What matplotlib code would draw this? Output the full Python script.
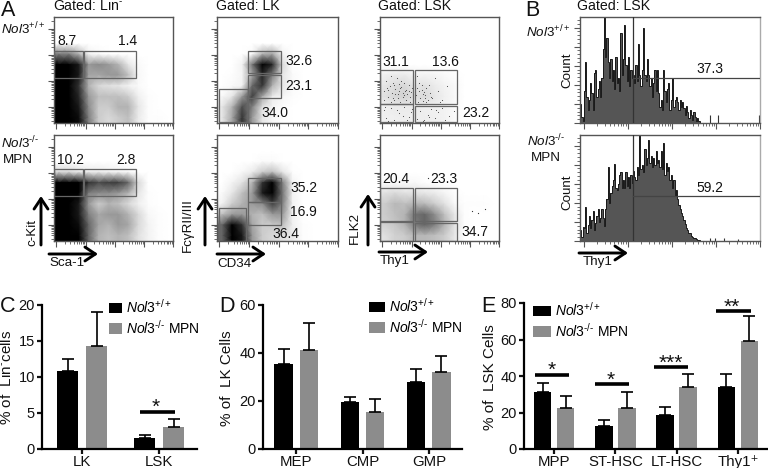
import numpy as np
import matplotlib
matplotlib.use('Agg')
import matplotlib.pyplot as plt
from matplotlib.patches import Rectangle, FancyArrowPatch

plt.rcParams['font.family'] = ['Liberation Sans', 'DejaVu Sans']
plt.rcParams['mathtext.fontset'] = 'custom'
plt.rcParams['mathtext.rm'] = 'Liberation Sans'
plt.rcParams['mathtext.it'] = 'Liberation Sans:italic'
plt.rcParams['mathtext.default'] = 'regular'

W, H = 768, 468
WT = r'$\mathit{Nol3}^{+/+}$'
KO = '$\\mathit{Nol3}^{\u2010/\u2010}$'

# bar charts: mean and top of the error bar
c_groups = ['LK', 'LSK']
c_wt = [10.9, 1.5]
c_wt_err = [12.5, 2.0]
c_ko = [14.3, 3.0]
c_ko_err = [19.0, 4.1]
d_groups = ['MEP', 'CMP', 'GMP']
d_wt = [35.3, 19.6, 27.8]
d_wt_err = [41.7, 21.5, 33.3]
d_ko = [41.4, 15.3, 31.9]
d_ko_err = [52.4, 20.8, 38.6]
e_groups = ['MPP', 'ST-HSC', 'LT-HSC', 'Thy1\u207a']
e_wt = [31.3, 12.5, 18.9, 33.7]
e_wt_err = [35.9, 16.1, 23.1, 41.2]
e_ko = [22.7, 22.5, 33.7, 59.3]
e_ko_err = [28.8, 31.1, 41.0, 73.0]

# density of the dot plots read by eye, rows top to bottom, 0 white 1 black
lin_wt = [[0]*12, [0]*12, [0]*12,
          [.5, .5, .3, .05, .02, 0, 0, 0, 0, 0, 0, 0],
          [1, 1, .9, .4, .45, .4, .3, .1, .02, 0, 0, 0],
          [1, 1, .9, .35, .35, .4, .4, .25, .03, 0, 0, 0],
          [1, 1, .8, .3, .15, .12, .1, .05, .02, 0, 0, 0],
          [1, 1, .85, .4, .25, .25, .25, .2, .06, .01, 0, 0],
          [1, 1, .9, .45, .2, .2, .3, .3, .1, .01, 0, 0],
          [1, 1, .95, .5, .2, .15, .2, .25, .08, .01, .01, 0]]
lin_ko = [[0]*12, [0]*12, [0]*12,
          [.15, .15, .1, .08, .08, .06, .05, .03, 0, 0, 0, 0],
          [1, 1, 1, .8, .7, .75, .75, .6, .15, 0, 0, 0],
          [1, 1, 1, .5, .45, .45, .4, .3, .1, .01, 0, 0],
          [1, 1, .9, .4, .2, .3, .25, .15, .06, .01, 0, 0],
          [1, 1, .9, .5, .35, .4, .4, .3, .15, .03, .01, 0],
          [1, 1, .95, .6, .35, .3, .4, .35, .15, .05, .01, 0],
          [1, 1, 1, .6, .3, .25, .3, .25, .12, .05, .01, 0]]
lk_wt = [[0]*12, [0]*12, [0]*12,
         [0, 0, 0, .02, .3, .35, .05, 0, 0, 0, 0, 0],
         [0, 0, .05, .55, 1, .85, .15, 0, 0, 0, 0, 0],
         [0, .01, .04, .35, .85, .5, .1, .02, 0, 0, 0, 0],
         [0, .02, .05, .6, .8, .3, .1, .02, 0, 0, 0, 0],
         [.03, .1, .4, .75, .35, .08, .04, .01, 0, 0, 0, 0],
         [.1, .3, .7, .5, .12, .04, .01, 0, 0, 0, 0, 0],
         [.1, .35, .8, .4, .1, .03, .01, 0, 0, 0, 0, 0]]
lk_ko = [[0]*12, [0]*12,
         [0, 0, 0, 0, .02, .02, 0, 0, 0, 0, 0, 0],
         [0, 0, .03, .08, .2, .25, .1, .01, 0, 0, 0, 0],
         [0, .05, .12, .3, .8, 1, .5, .05, 0, 0, 0, 0],
         [.02, .1, .25, .4, .9, 1, .55, .05, 0, 0, 0, 0],
         [.05, .2, .3, .4, .45, .75, .5, .05, 0, 0, 0, 0],
         [.25, .4, .4, .3, .25, .4, .4, .05, 0, 0, 0, 0],
         [.6, 1, .8, .35, .2, .2, .25, .06, .01, 0, 0, 0],
         [.6, 1, .9, .4, .2, .15, .12, .08, .01, 0, 0, 0]]
lsk_wt = [[0]*12, [0]*12, [0]*12, [0]*12, [0]*12,
          [.06, .08, .08, .05, .05, .04, .02, .01, 0, 0, 0, 0],
          [.1, .14, .16, .1, .12, .08, .05, .03, 0, 0, 0, 0],
          [.12, .16, .18, .12, .15, .1, .06, .03, 0, 0, 0, 0],
          [.06, .08, .08, .08, .06, .06, .05, .02, 0, 0, 0, 0],
          [.06, .06, .07, .07, .07, .06, .05, .02, 0, 0, 0, 0]]
lsk_ko = [[0]*12, [0]*12, [0]*12, [0]*12,
          [.02, .02, .02, .03, .01, .01, 0, 0, 0, 0, 0, 0],
          [.12, .15, .12, .12, .1, .08, .04, .01, 0, 0, 0, 0],
          [.2, .28, .25, .3, .28, .2, .12, .03, .01, .01, .01, 0],
          [.2, .25, .3, .55, .6, .45, .25, .1, .01, 0, 0, 0],
          [.18, .22, .3, .5, .6, .5, .3, .12, .01, 0, 0, 0],
          [.12, .18, .2, .28, .28, .25, .2, .1, 0, 0, 0, 0]]

# single dots of the sparse LSK plot
lsk_wt_x = [.03, .05, .07, .08, .1, .11, .12, .13, .14, .15, .16, .17, .18, .19, .2, .21, .22, .23, .24, .25, .26,
            .04, .06, .09, .12, .15, .17, .19, .22, .25, .27, .09, .13, .16, .2, .24, .03, .07, .11, .18, .28,
            .3, .31, .32, .33, .34, .35, .36, .37, .38, .39, .4, .42, .44, .46, .49, .52, .56, .33, .36, .39, .43,
            .31, .35, .38, .41, .5, .03, .05, .09, .12, .16, .2, .24, .27, .07, .14, .19, .23, .26,
            .31, .34, .37, .4, .43, .46, .49, .52, .55, .58, .62, .36, .41, .47, .53]
lsk_wt_y = [.3, .4, .25, .35, .28, .38, .22, .32, .42, .27, .3, .2, .34, .25, .38, .3, .22, .27, .36, .2, .29,
            .15, .33, .44, .36, .24, .33, .28, .31, .25, .33, .2, .27, .37, .26, .3, .22, .31, .24, .4, .44,
            .26, .33, .2, .3, .24, .36, .21, .29, .26, .33, .22, .28, .24, .42, .3, .22, .35, .38, .27, .2, .25,
            .44, .31, .24, .36, .2, .12, .05, .14, .03, .09, .15, .06, .13, .02, .12, .07, .03, .1,
            .04, .11, .03, .08, .13, .05, .1, .14, .03, .07, .11, .02, .06, .12, .16]
lsk_ko_x = [.77, .82, .88, .4]
lsk_ko_y = [.28, .26, .3, .59]

# histograms of panel B, bin heights as a fraction of the axis
hist_wt = [.18, .06, .02, .3, .58, .25, .12, .22, .38, .28, .12, .47, .5, .25, .32, .4, .25, .42, .7, 1.0,
           .62, .8, .58, .42, .6, .4, .5, .32, .62, .38, .42, .3, .85, .45, .6, .92, .55, .4, .62, .35,
           .5, .42, .45, .38, .55, .4, .75, .45, .35, .5, .9, .45, .4, .6, .45, .35, .42, .25, .38, .5,
           .3, .5, .28, .15, .22, .12, .5, .3, .2, .32, .38, .12, .22, .42, .15, .22, .25, .2, .12, .22,
           .15, .2, .14, .08, .16, .1, .05, .12, .08, .03, .1, .06, .02, .05, .02]
hist_ko = [.1, .04, .13, .12, .32, .08, .15, .24, .12, .2,
           .28, .1, .17, .24, .3, .18, .22, .3, .22, .14,
           .3, .4, .7, .36, .45, .52, .58, .73, .5, .48,
           .54, .62, .65, .5, .58, .5, .65, .52, .6, .5,
           .62, .55, .66, .6, .58, .7, .62, 1.0, .68, .72,
           .65, .87, .72, .78, .95, .74, .8, .7, .78, .72,
           .85, .74, .76, .7, .85, .68, .92, .62, .74, .66,
           .7, .58, .62, .5, .58, .42, .48, .4, .34, .3,
           .26, .24, .2, .16, .12, .1, .08, .08, .05, .04,
           .03, .03, .02, .01, .01]
sparse_wt_x = [.72, .767, .995]
sparse_wt_h = [.08, .08, .08]
sparse_ko_x = [.72, .75, .8, .88]
sparse_ko_h = [.03, .03, .03, .02]


def px(x, y):
    return x / W, 1 - y / H


def add_ax(l, t, r, b):
    return fig.add_axes([l / W, 1 - b / H, (r - l) / W, (b - t) / H])


def txt(x, y, s, size=9.6, ha='center', va='center', **kw):
    fx, fy = px(x, y)
    fig.text(fx, fy, s, fontsize=size, ha=ha, va=va, color='#111111', **kw)


def arrow(x0, y0, x1, y1):
    fig.add_artist(FancyArrowPatch(px(x0, y0), px(x1, y1), transform=fig.transFigure,
                                   arrowstyle='->,head_length=0.75,head_width=0.5',
                                   mutation_scale=10, lw=2.1, color='black',
                                   shrinkA=0, shrinkB=0))


def facs_ax(l, t, r, b):
    ax = add_ax(l, t, r, b)
    ax.set_xlim(0, 1)
    ax.set_ylim(0, 1)
    for s in ax.spines.values():
        s.set_color('#555555')
        s.set_linewidth(1)
    step = .245
    major = [.15 + k * step for k in range(4)]
    minor = [.15 + (k + np.log10(m)) * step for k in range(-1, 4) for m in range(2, 10)]
    minor = [v for v in minor if 0 < v < 1]
    ax.set_yticks(major)
    ax.set_yticks(minor, minor=True)
    xmajor = [k * step + .02 for k in range(5)]
    xminor = [.02 + (k + np.log10(m)) * step for k in range(4) for m in range(2, 10)]
    ax.set_xticks(xmajor)
    ax.set_xticks(xminor, minor=True)
    ax.tick_params(which='major', length=4, width=.8, color='#555555', labelbottom=False, labelleft=False)
    ax.tick_params(which='minor', length=2.2, width=.6, color='#555555')
    return ax


def density(ax, grid):
    z = np.pad(np.array(grid, dtype=float), 1, mode='edge')
    nr, nc = len(grid), len(grid[0])
    xs = np.r_[0, (np.arange(nc) + .5) / nc, 1]
    ys = np.r_[1, 1 - (np.arange(nr) + .5) / nr, 0]
    ax.pcolormesh(xs, ys, z, cmap='gray_r', vmin=0, vmax=1, shading='gouraud', zorder=1)


def gates(ax, boxes):
    for x0, y0, x1, y1 in boxes:
        ax.add_patch(Rectangle((x0, y0), x1 - x0, y1 - y0, fill=False, ec='#666666', lw=.9, zorder=3))


def hist_ax(t, b, vals, sx, sh):
    ax = add_ax(580, t, 760, b)
    ax.set_xlim(0, 1)
    ax.set_ylim(0, 1)
    edges = np.linspace(0, len(vals) * .007, len(vals) + 1)
    ax.stairs(vals, edges, fill=True, color='#555555', zorder=1)
    ax.stairs(vals, edges, color='#1a1a1a', lw=.7, zorder=2)
    ax.vlines(sx, 0, sh, color='#333333', lw=.8)
    ax.axvline(.296, color='#333333', lw=.9, zorder=3)
    ax.plot([.296, 1], [.42, .42], color='#444444', lw=.9, zorder=3)
    for s in ax.spines.values():
        s.set_color('#555555')
        s.set_linewidth(1)
    ax.spines['right'].set_color('#aaaaaa')
    ax.set_yticks(np.arange(0, 1, .18))
    ax.set_yticks(np.arange(0, 1, .036), minor=True)
    step = .245
    ax.set_xticks([.02 + k * step for k in range(5)])
    ax.set_xticks([.02 + (k + np.log10(m)) * step for k in range(4) for m in range(2, 10)], minor=True)
    ax.tick_params(which='major', length=4, width=.8, color='#555555', labelbottom=False, labelleft=False)
    ax.tick_params(which='minor', length=2.2, width=.6, color='#555555')


def bar_ax(l, r, y_top, ymax, yt, groups, wt, wt_err, ko, ko_err, x0, x1, w, off, leg, leg_y, hl):
    ax = add_ax(l, y_top, r, 449)
    x = np.arange(len(groups))
    b1 = ax.bar(x - off, wt, w, color='black')
    b2 = ax.bar(x + off, ko, w, color='#8c8c8c')
    for xx, v, e in zip(x - off, wt, wt_err):
        ax.errorbar(xx, v, yerr=[[0], [e - v]], color='black', lw=1.2, capsize=4.5, capthick=1.2)
    for xx, v, e in zip(x + off, ko, ko_err):
        ax.errorbar(xx, v, yerr=[[0], [e - v]], color='black', lw=1.2, capsize=4.5, capthick=1.2)
    ax.set_xlim(x0, x1)
    ax.set_ylim(0, ymax)
    ax.set_yticks(yt)
    ax.set_xticks(x)
    ax.set_xticklabels(groups)
    for s in ['top', 'right']:
        ax.spines[s].set_visible(False)
    for s in ['left', 'bottom']:
        ax.spines[s].set_linewidth(1.6)
    ax.tick_params(length=3.5, width=1.6, pad=1.5, colors='#111111')
    ax.tick_params(axis='y', labelsize=10.5)
    ax.tick_params(axis='x', labelsize=10.8, pad=.5)
    ax.patch.set_alpha(0)
    ax.legend([b1, b2], [WT, KO + ' MPN'], loc='upper left', frameon=False, fontsize=10,
              bbox_to_anchor=px(leg, leg_y), bbox_transform=fig.transFigure, borderpad=0, borderaxespad=0,
              handlelength=hl, handleheight=.8, handletextpad=.3, labelspacing=.2)
    return ax


fig = plt.figure(figsize=(W / 100, H / 100), dpi=100)

# panel A
top = (17, 123)
bot = (135, 241)
lin_g = [(0, .42, .243, .68), (.25, .42, .69, .68)]

ax = facs_ax(54, top[0], 173, top[1])
density(ax, lin_wt)
gates(ax, lin_g)
ax = facs_ax(54, bot[0], 173, bot[1])
density(ax, lin_ko)
gates(ax, lin_g)

ax = facs_ax(217, top[0], 338, top[1])
density(ax, lk_wt)
gates(ax, [(.256, .47, .53, .68), (.256, .24, .53, .456), (.017, .006, .256, .32)])
ax = facs_ax(217, bot[0], 338, bot[1])
density(ax, lk_ko)
gates(ax, [(.256, .37, .53, .59), (.256, .155, .53, .365), (.017, 0, .242, .316)])

ax = facs_ax(380, top[0], 499, top[1])
density(ax, lsk_wt)
ax.scatter(lsk_wt_x, lsk_wt_y, s=.6, color='#444444', lw=0, zorder=2)
gates(ax, [(0, .183, .275, .5), (.29, .183, .65, .5), (0, .006, .275, .177), (.29, .006, .65, .165)])
ax = facs_ax(380, bot[0], 499, bot[1])
density(ax, lsk_ko)
ax.scatter(lsk_ko_x, lsk_ko_y, s=.8, color='#333333', lw=0, zorder=2)
gates(ax, [(0, .186, .275, .5), (.29, .186, .65, .5), (0, 0, .275, .177), (.29, 0, .65, .17)])

# panel B
hist_ax(17, 123, hist_wt, sparse_wt_x, sparse_wt_h)
hist_ax(135, 241, hist_ko, sparse_ko_x, sparse_ko_h)

# panels C, D, E
ax = bar_ax(42, 197, 305, 20, [0, 5, 10, 15, 20], c_groups, c_wt, c_wt_err, c_ko, c_ko_err,
            -.52, 1.49, .27, .188, 109, 298, .9)
ax.plot([.75, 1.21], [5.2, 5.2], color='black', lw=2.6, solid_capstyle='butt')

ax = bar_ax(263, 462, 305, 60, [0, 20, 40, 60], d_groups, d_wt, d_wt_err, d_ko, d_ko_err,
            -.5, 2.5, .275, .19, 369, 297, 1.15)

ax = bar_ax(524, 768, 303, 80, [0, 20, 40, 60, 80], e_groups, e_wt, e_wt_err, e_ko, e_ko_err,
            -.49, 3.49, .285, .188, 533, 301, 1.3)
for i, y, a, b in [(0, 40.8, -.31, .25), (1, 35.5, -.34, .23), (2, 45, -.375, .18), (3, 75.8, -.36, .21)]:
    ax.plot([i + a, i + b], [y, y], color='black', lw=2.6, solid_capstyle='butt')

# stars
for x, y, s in [(156, 407, '*'), (552, 370, '*'), (611, 380, '*'), (671, 363, '***'), (732, 307, '**')]:
    txt(x, y, s, size=15)

# panel letters
for x, y, s in [(8, 10, 'A'), (532, 10, 'B'), (8, 306, 'C'), (227, 306, 'D'), (488, 306, 'E')]:
    txt(x, y, s, size=15.5)

txt(53, 6, 'Gated: Lin$^{\u2010}$', size=10.2, ha='left')
txt(216, 6, 'Gated: LK', size=10.2, ha='left')
txt(378, 6, 'Gated: LSK', size=10.2, ha='left')
txt(577, 6, 'Gated: LSK', size=10.2, ha='left')

txt(1, 29, WT, ha='left')
txt(1, 143, KO, ha='left')
txt(18, 160, 'MPN')
txt(526, 32, WT, ha='left')
txt(527, 141, KO, ha='left')
txt(546, 158, 'MPN')

labels = [(67, 41, '8.7'), (128, 41, '1.4'), (70, 160, '10.2'), (126, 160, '2.8'),
          (299, 61, '32.6'), (299, 86, '23.1'), (275, 113, '34.0'),
          (304, 188, '35.2'), (303, 212, '16.9'), (286, 234, '36.4'),
          (396, 62, '31.1'), (445, 62, '13.6'), (476, 113, '23.2'),
          (396, 179, '20.4'), (444, 179, '23.3'), (475, 232, '34.7'),
          (710, 69, '37.3'), (710, 188, '59.2')]
for x, y, s in labels:
    txt(x, y, s, size=10)

# axis arrows and names
arrow(49, 254, 98, 254)
arrow(41, 245, 41, 196)
arrow(217, 254, 266, 254)
arrow(205, 245, 205, 196)
arrow(379, 252, 428, 252)
arrow(368, 245, 368, 194)
arrow(579, 253, 628, 253)
txt(49, 263, 'Sca-1', ha='left')
txt(32, 232, 'c-Kit', rotation=90)
txt(217, 264, 'CD34', ha='left')
txt(188, 225, 'Fc\u03b3RII/III', rotation=90)
txt(380, 261, 'Thy1', ha='left')
txt(355, 228, 'FLK2', rotation=90)
txt(583, 262, 'Thy1', ha='left')
txt(567, 70, 'Count', rotation=90)
txt(567, 192, 'Count', rotation=90)

txt(7, 377, '% of  Lin$^{\u2010}$cells', size=11, rotation=90)
txt(227, 378, '% of  LK Cells', size=11, rotation=90)
txt(490, 377, '% of  LSK Cells', size=11, rotation=90)

fig.savefig('out.png', dpi=100)
